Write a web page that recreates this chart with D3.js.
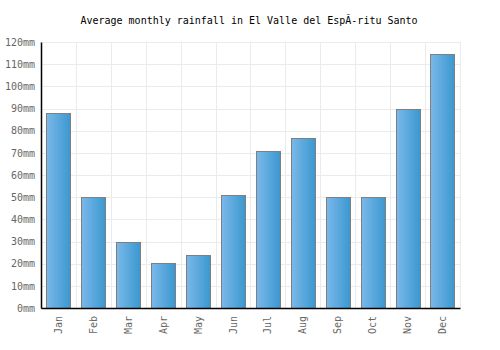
<!DOCTYPE html>
<html><head><meta charset="utf-8">
<script src="https://cdn.jsdelivr.net/npm/d3@7"></script>
<style>body{margin:0;background:#fff}svg{display:block}</style>
</head><body>
<script>
const months = ["Jan","Feb","Mar","Apr","May","Jun","Jul","Aug","Sep","Oct","Nov","Dec"];
const rainfall = [88, 50.3, 30, 20.5, 23.8, 50.8, 71, 76.5, 50.3, 50.3, 89.6, 114.4];
const yTicks = [0,10,20,30,40,50,60,70,80,90,100,110,120];
const title = "Average monthly rainfall in El Valle del EspÃ-ritu Santo";

const W = 500, H = 350;
const m = {l: 41, r: 40, t: 42, b: 42};
const svg = d3.select("body").append("svg").attr("width", W).attr("height", H);
const font = "'DejaVu Sans Mono', monospace";

const defs = svg.append("defs");
const g = defs.append("linearGradient").attr("id","bg").attr("x1","0").attr("x2","1").attr("y1","0").attr("y2","0");
g.append("stop").attr("offset","0%").attr("stop-color","#7bb8ea");
g.append("stop").attr("offset","100%").attr("stop-color","#3a98cf");

const x = d3.scaleBand().domain(months).range([m.l, W - m.r]).paddingInner(0.31).paddingOuter(0.155);
const xg = d3.scaleBand().domain(months).range([m.l, W - m.r]);
const y = d3.scaleLinear().domain([0,120]).range([H - m.b, m.t]);

// grid
const grid = svg.append("g").attr("stroke","#ebebeb").attr("stroke-width",1);
grid.selectAll("line.h").data(yTicks).join("line").attr("class","h")
  .attr("x1", m.l).attr("x2", W - m.r).attr("y1", d => Math.round(y(d)) + 0.5).attr("y2", d => Math.round(y(d)) + 0.5);
grid.selectAll("line.v").data(months).join("line").attr("class","v")
  .attr("x1", d => Math.round(xg(d) + xg.bandwidth()) + 0.5).attr("x2", d => Math.round(xg(d) + xg.bandwidth()) + 0.5)
  .attr("y1", m.t).attr("y2", H - m.b);

// bars
svg.append("g").selectAll("rect").data(rainfall).join("rect")
  .attr("x", (d,i) => Math.round(x(months[i])) + 0.5)
  .attr("width", Math.round(x.bandwidth()))
  .attr("y", d => Math.round(y(d)) + 0.5)
  .attr("height", d => Math.round(y(0)) - Math.round(y(d)))
  .attr("fill","url(#bg)").attr("stroke","#7f7f7f").attr("stroke-width",1);

// y axis
const ya = svg.append("g").attr("transform", `translate(${m.l},0)`)
  .call(d3.axisLeft(y).tickValues(yTicks).tickSize(0).tickPadding(6).tickFormat(d => d + "mm"));
ya.select(".domain").attr("stroke","#000").attr("stroke-width",1.5);
ya.selectAll("text").attr("fill","#666").style("font-family", font).style("font-size","10px");

// x axis
const xa = svg.append("g").attr("transform", `translate(0,${H - m.b})`)
  .call(d3.axisBottom(xg).tickSize(0).tickPadding(0));
xa.select(".domain").attr("stroke","#000").attr("stroke-width",1.5);
xa.selectAll("text").attr("fill","#666").style("font-family", font).style("font-size","10px")
  .attr("transform","rotate(-90)").attr("text-anchor","end").attr("dy","0.35em").attr("x",-8).attr("y",0);

svg.append("text").attr("x", 249).attr("y", 24).attr("text-anchor","middle")
  .style("font-family", font).style("font-size","10px").attr("fill","#000").text(title);
</script>
</body></html>
